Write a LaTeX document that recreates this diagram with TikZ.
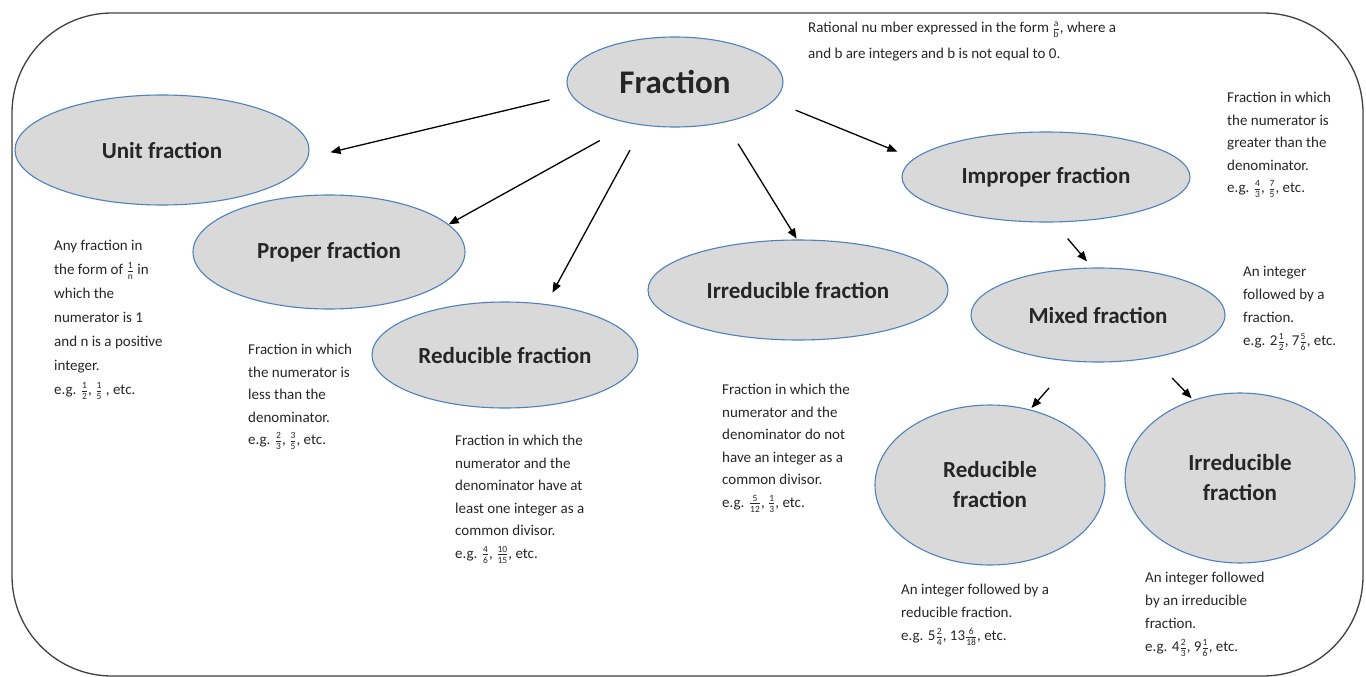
\documentclass[tikz,border=0pt]{standalone}
\usepackage{amsmath}
\usepackage{fontspec}
\setmainfont{Carlito}
\usetikzlibrary{arrows.meta,shapes.geometric}

\definecolor{ovalfill}{HTML}{D9D9D9}
\definecolor{ovalline}{HTML}{4F81BD}
\definecolor{inktext}{HTML}{262626}
\definecolor{framecol}{HTML}{404040}
\newcommand{\fr}[2]{\ensuremath{\genfrac{}{}{0.6pt}{}{\mbox{\fontsize{9.5}{9.5}\selectfont #1}}{\mbox{\fontsize{9.5}{9.5}\selectfont #2}}}}

\begin{document}
\begin{tikzpicture}[x=1pt,y=-1pt,
  oval/.style={ellipse, draw=ovalline, fill=ovalfill, line width=1.1pt, inner sep=0pt, font=\fontsize{23}{30}\selectfont\bfseries, text=inktext, align=center},
  desc/.style={anchor=north west, inner sep=0pt, align=left, font=\fontsize{15}{22.5}\selectfont, text=inktext},
  arrow/.style={-{Triangle[length=10pt,width=8pt]}, line width=1.3pt}
]
\useasboundingbox (0,0) rectangle (1366,677);
\draw[framecol, line width=1.3pt, rounded corners=100pt] (12,13) rectangle (1363,676);

% ovals
\node[oval, minimum width=216pt, minimum height=90pt, font=\fontsize{33}{36}\selectfont\bfseries] (frac) at (675,82) {Fraction};
\node[oval, minimum width=294pt, minimum height=110pt] (unit) at (162,150) {Unit fraction};
\node[oval, minimum width=272pt, minimum height=114pt] (proper) at (329,252) {Proper fraction};
\node[oval, minimum width=266pt, minimum height=106pt] (reduc) at (505,355) {Reducible fraction};
\node[oval, minimum width=300pt, minimum height=100pt] (irred) at (798,290) {Irreducible fraction};
\node[oval, minimum width=288pt, minimum height=90pt] (improper) at (1046,177) {Improper fraction};
\node[oval, minimum width=254pt, minimum height=94pt] (mixed) at (1098,315) {Mixed fraction};
\node[oval, minimum width=230pt, minimum height=160pt] (mixred) at (990,485) {Reducible\\fraction};
\node[oval, minimum width=230pt, minimum height=170pt] (mixirr) at (1240,478) {Irreducible\\fraction};

% notes
\node[desc, font=\fontsize{15}{26}\selectfont] (fracnote) at (808,22) {Rational nu mber expressed in the form \fr{a}{b}, where a\\and b are integers and b is not equal to 0.};
\node[desc, font=\fontsize{15}{24}\selectfont] (unitnote) at (54,240) {Any fraction in\\the form of \fr{1}{n} in\\which the\\numerator is 1\\and n is a positive\\integer.\\e.g. \fr{1}{2}, \fr{1}{5} , etc.};
\node[desc] (propnote) at (248,344) {Fraction in which\\the numerator is\\less than the\\denominator.\\e.g. \fr{2}{3}, \fr{3}{5}, etc.};
\node[desc] (reducnote) at (455,435) {Fraction in which the\\numerator and the\\denominator have at\\least one integer as a\\common divisor.\\e.g. \fr{4}{6}, \fr{10}{15}, etc.};
\node[desc] (irrednote) at (722,384) {Fraction in which the\\numerator and the\\denominator do not\\have an integer as a\\common divisor.\\e.g. \fr{5}{12}, \fr{1}{3}, etc.};
\node[desc] (impnote) at (1227,92) {Fraction in which\\the numerator is\\greater than the\\denominator.\\e.g. \fr{4}{3}, \fr{7}{5}, etc.};
\node[desc, font=\fontsize{15}{23}\selectfont] (mixnote) at (1243,266) {An integer\\followed by a\\fraction.\\e.g. 2\fr{1}{2}, 7\fr{5}{6}, etc.};
\node[desc, font=\fontsize{15}{23}\selectfont] (mixrednote) at (901,584) {An integer followed by a\\reducible fraction.\\ e.g. 5\fr{2}{4}, 13\fr{6}{18}, etc.};
\node[desc, font=\fontsize{15}{23}\selectfont] (mixirrnote) at (1145,572) {An integer followed\\by an irreducible\\fraction.\\e.g. 4\fr{2}{3}, 9\fr{1}{6}, etc.};

% arrows
\draw[arrow, shorten <=22pt, shorten >=23pt] (frac.187) -- (unit.-3);
\draw[arrow, shorten <=35pt] (frac.223) -- (proper.13);
\draw[arrow, shorten <=28pt, shorten >=13pt] (frac.234) -- (reduc.51);
\draw[arrow, shorten <=25pt, shorten >=1pt] (frac.321) -- (irred.91);
\draw[arrow, shorten <=24pt, shorten >=18pt] (frac.349) -- (improper.172);
\draw[arrow, shorten <=21pt, shorten >=8pt] (improper.280) -- (mixed.97);
\draw[arrow, shorten <=35pt, shorten >=2pt] (mixed.241) -- (mixred.62);
\draw[arrow, shorten <=28pt, shorten >=2pt] (mixed.322) -- (mixirr.121);
\end{tikzpicture}
\end{document}
